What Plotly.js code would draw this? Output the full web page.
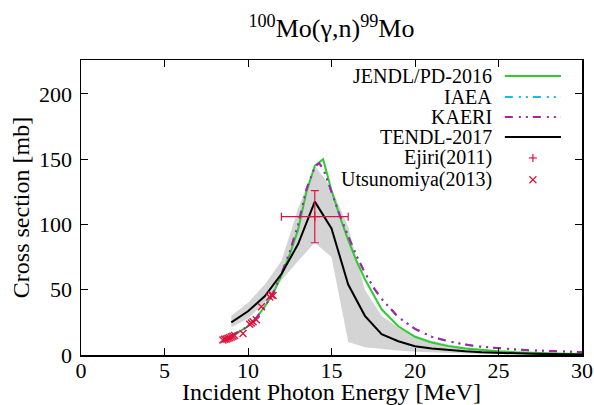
<!DOCTYPE html>
<html>
<head>
<meta charset="utf-8">
<script src="https://cdn.plot.ly/plotly-3.0.1.min.js"></script>
<style>html,body{margin:0;padding:0;background:#fff;}#chart{width:594px;height:405px;}</style>
</head>
<body>
<div id="chart"></div>
<script>
// ---- data ----
const jendlE  = [9.0, 9.5, 10, 10.5, 11, 11.5, 12, 12.5, 13, 13.5, 14, 14.5, 15, 15.5, 16, 16.5, 17, 17.5, 18, 19, 20, 21, 22, 23, 24, 25, 26, 27, 28, 29, 30];
const jendlXS = [15, 18, 22, 28.5, 37, 47, 61, 77, 96, 125, 145, 150, 126, 106, 88, 72, 58, 46, 35, 22, 14, 9.5, 6.8, 5, 3.8, 2.9, 2.2, 1.7, 1.3, 1.0, 0.8];

const kaeriE  = [9.0, 9.5, 10, 10.5, 11, 11.5, 12, 12.5, 13, 13.5, 14, 14.25, 14.5, 15, 15.5, 16, 16.5, 17, 17.5, 18, 19, 20, 21, 22, 23, 24, 25, 26, 27, 28, 29, 30];
const kaeriXS = [15, 18, 22, 28.5, 37, 47.5, 62, 79, 100, 127, 144, 147, 143, 125, 107, 91, 76, 63, 52, 43, 29, 20, 14, 10.5, 8, 6.3, 5.2, 4.3, 3.6, 3.0, 2.5, 2.1];

const iaeaE  = kaeriE.slice();
const iaeaXS = [15, 18, 22, 28.5, 37, 47.5, 62, 79, 100, 127, 144, 147, 143, 125, 107, 91, 76, 63, 52, 43, 29, 20, 14, 10.5, 8, 6.3, 5.2, 4.3, 3.6, 3.0, 2.5, 2.1];

const tendlE  = [9, 10, 11, 12, 13, 14, 15, 16, 17, 18, 19, 20, 21, 22, 23, 24, 25, 26, 27, 28, 29, 30];
const tendlXS = [25, 33.5, 45, 62, 85, 117.5, 97, 54, 30, 16, 10.5, 6.7, 5, 3.7, 2.8, 2.1, 1.6, 1.2, 0.9, 0.7, 0.5, 0.4];
const tendlUp = [30, 40, 54, 72, 112, 145, 128, 98, 50, 30, 21, 15, 11, 8, 6, 4.5, 3.5, 2.7, 2.1, 1.6, 1.2, 1.0];
const tendlLo = [21, 28, 40, 57, 72, 86, 75, 10, 6, 4.5, 3.5, 2.5, 2, 1.5, 1.1, 0.8, 0.6, 0.5, 0.4, 0.3, 0.2, 0.2];

const ejiriE   = [14.0];
const ejiriXS  = [106];
const ejiriDE  = [2.0];
const ejiriDXS = [20];

const utsuE  = [8.5, 8.6, 8.7, 8.8, 8.9, 9.0, 9.1, 9.2, 9.7, 10.1, 10.2, 10.3, 10.5, 10.8, 11.3, 11.4, 11.5];
const utsuXS = [11.5, 12, 12.3, 12.8, 13.2, 13.8, 14.3, 15, 16.5, 23.5, 24.5, 25.5, 27, 37, 44.5, 46, 45.5];

const legendLabels = ["JENDL/PD-2016", "IAEA", "KAERI", "TENDL-2017", "Ejiri(2011)", "Utsunomiya(2013)"];

// ---- styles ----
const FONT = "Liberation Serif";
const GREEN = "#2ecc2e", CYAN = "#1ab8f0", PURPLE = "#b0209f", CRIMSON = "#dc143c";
const DASHDD = "8px,6px,2px,5px,2px,5px";

const traces = [
  {x: tendlE, y: tendlLo, mode: "lines", line: {width: 0, color: "rgba(0,0,0,0)"}, hoverinfo: "skip", showlegend: false},
  {x: tendlE, y: tendlUp, mode: "lines", line: {width: 0, color: "rgba(0,0,0,0)"}, fill: "tonexty", fillcolor: "rgb(212,212,212)", showlegend: false},
  {x: jendlE, y: jendlXS, mode: "lines", line: {color: GREEN, width: 2}, name: legendLabels[0]},
  {x: iaeaE, y: iaeaXS, mode: "lines", line: {color: CYAN, width: 2, dash: DASHDD}, name: legendLabels[1]},
  {x: kaeriE, y: kaeriXS, mode: "lines", line: {color: PURPLE, width: 2, dash: DASHDD}, name: legendLabels[2]},
  {x: tendlE, y: tendlXS, mode: "lines", line: {color: "black", width: 2}, name: legendLabels[3]},
  {x: ejiriE, y: ejiriXS, mode: "markers", name: legendLabels[4],
   marker: {symbol: "cross-thin-open", size: 7, color: CRIMSON, line: {color: CRIMSON, width: 1.2}},
   error_x: {type: "data", array: ejiriDE, color: CRIMSON, thickness: 1.2, width: 4},
   error_y: {type: "data", array: ejiriDXS, color: CRIMSON, thickness: 1.2, width: 4}},
  {x: utsuE, y: utsuXS, mode: "markers", name: legendLabels[5],
   marker: {symbol: "x-thin-open", size: 7, color: CRIMSON, line: {color: CRIMSON, width: 1.4}}}
];

// manual gnuplot-style legend (text right-aligned, sample on the right)
const rowY = [0.946, 0.875, 0.807, 0.739, 0.668, 0.594];
const textX = 0.824, sx0 = 0.846, sx1 = 0.958, mx = 0.902;
const annotations = legendLabels.map((t, i) => ({
  text: t, xref: "paper", yref: "paper", x: textX, y: rowY[i], xanchor: "right", yanchor: "middle",
  showarrow: false, font: {family: FONT, size: 20, color: "black"}
}));
const sampleStyles = [
  {color: GREEN, width: 2, dash: "solid"},
  {color: CYAN, width: 2, dash: DASHDD},
  {color: PURPLE, width: 2, dash: DASHDD},
  {color: "black", width: 2, dash: "solid"}
];
const shapes = sampleStyles.map((ln, i) => ({
  type: "line", xref: "paper", yref: "paper", x0: sx0, x1: sx1, y0: rowY[i], y1: rowY[i], line: ln
}));
shapes.push({type: "line", xref: "paper", yref: "paper", xsizemode: "pixel", ysizemode: "pixel",
  xanchor: mx, yanchor: rowY[4], x0: -4, x1: 4, y0: 0, y1: 0, line: {color: CRIMSON, width: 1.2}});
shapes.push({type: "line", xref: "paper", yref: "paper", xsizemode: "pixel", ysizemode: "pixel",
  xanchor: mx, yanchor: rowY[4], x0: 0, x1: 0, y0: -4, y1: 4, line: {color: CRIMSON, width: 1.2}});
shapes.push({type: "line", xref: "paper", yref: "paper", xsizemode: "pixel", ysizemode: "pixel",
  xanchor: mx, yanchor: rowY[5], x0: -3.5, x1: 3.5, y0: -3.5, y1: 3.5, line: {color: CRIMSON, width: 1.2}});
shapes.push({type: "line", xref: "paper", yref: "paper", xsizemode: "pixel", ysizemode: "pixel",
  xanchor: mx, yanchor: rowY[5], x0: -3.5, x1: 3.5, y0: 3.5, y1: -3.5, line: {color: CRIMSON, width: 1.2}});

const axisCommon = {
  showgrid: false, zeroline: false, showline: true, linecolor: "black", linewidth: 1.5, mirror: "ticks",
  ticks: "inside", ticklen: 7, tickwidth: 1, tickcolor: "black",
  tickfont: {family: FONT, size: 22, color: "black"}
};

const layout = {
  width: 594, height: 405,
  margin: {l: 81, r: 12, t: 60, b: 49.5, pad: 0},
  paper_bgcolor: "white", plot_bgcolor: "white",
  showlegend: false,
  font: {family: FONT},
  title: {text: "<sup>100</sup>Mo(γ,n)<sup>99</sup>Mo", x: 0.558, xanchor: "center", y: 0.93, yanchor: "middle",
          font: {family: FONT, size: 26, color: "black"}},
  xaxis: Object.assign({}, axisCommon, {range: [0, 30], dtick: 5, tick0: 0, ticklabelstandoff: -5,
          title: {text: "Incident Photon Energy [MeV]", standoff: 2, font: {family: FONT, size: 24, color: "black"}}}),
  yaxis: Object.assign({}, axisCommon, {range: [0, 226], dtick: 50, tick0: 0, ticklabelstandoff: 3,
          title: {text: "Cross section [mb]", standoff: 2, font: {family: FONT, size: 24, color: "black"}}}),
  annotations: annotations,
  shapes: shapes
};

Plotly.newPlot("chart", traces, layout, {staticPlot: true, displayModeBar: false});
</script>
</body>
</html>
